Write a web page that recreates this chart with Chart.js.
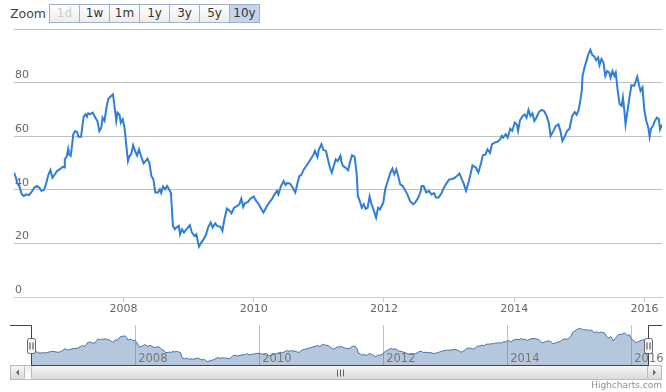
<!DOCTYPE html>
<html>
<head>
<meta charset="utf-8">
<script src="https://cdn.jsdelivr.net/npm/chart.js@4.4.1/dist/chart.umd.min.js"></script>
<style>
  body { margin: 0; background: #fff; font-family: "DejaVu Sans", Verdana, sans-serif; }
  #wrap { position: relative; width: 666px; height: 392px; overflow: hidden; }
  #mainChart { position: absolute; left: 0; top: 0; }
  #navChart { position: absolute; left: 0; top: 318px; }
  .lbl { position: absolute; left: 10px; top: 4px; line-height: 19px; font-size: 12.5px; color: #444; }
  .btn { position: absolute; top: 4px; width: 29px; height: 17px; line-height: 17px; border: 1px solid #9fb0c8;
         text-align: center; font-size: 12px; color: #333; background: linear-gradient(#ffffff, #ececec); }
  .btn.dis { color: #ccc; }
  .btn.sel { background: #c3d5ee; }
  .credit { position: absolute; right: 4px; top: 380px; font-size: 9px; color: #909090; }
</style>
</head>
<body>
<div id="wrap">
  <span class="lbl">Zoom</span>
  <span class="btn dis" style="left:49px">1d</span>
  <span class="btn" style="left:79px">1w</span>
  <span class="btn" style="left:109px">1m</span>
  <span class="btn" style="left:139px">1y</span>
  <span class="btn" style="left:169px">3y</span>
  <span class="btn" style="left:199px">5y</span>
  <span class="btn sel" style="left:229px">10y</span>
  <canvas id="mainChart" width="666" height="320"></canvas>
  <canvas id="navChart" width="666" height="74"></canvas>
  <span class="credit">Highcharts.com</span>
</div>
<script>
// decimal years
const years = [
  2006.32, 2006.35, 2006.37, 2006.40, 2006.44, 2006.47, 2006.51, 2006.55, 2006.59, 2006.63,
  2006.67, 2006.71, 2006.74, 2006.78, 2006.81, 2006.85, 2006.88, 2006.91, 2006.95, 2006.98,
  2007.02, 2007.07, 2007.09, 2007.10, 2007.13, 2007.15, 2007.16, 2007.19, 2007.21, 2007.23,
  2007.26, 2007.29, 2007.31, 2007.35, 2007.37, 2007.39, 2007.42, 2007.44, 2007.46, 2007.49,
  2007.53, 2007.57, 2007.60, 2007.63, 2007.66, 2007.68, 2007.71, 2007.74, 2007.77, 2007.81,
  2007.84, 2007.86, 2007.89, 2007.91, 2007.94, 2007.96, 2007.99, 2008.02, 2008.04, 2008.07,
  2008.09, 2008.12, 2008.15, 2008.18, 2008.21, 2008.24, 2008.27, 2008.31, 2008.34, 2008.37,
  2008.40, 2008.43, 2008.46, 2008.49, 2008.53, 2008.56, 2008.58, 2008.61, 2008.64, 2008.67,
  2008.70, 2008.73, 2008.76, 2008.79, 2008.81, 2008.85, 2008.87, 2008.90, 2008.93, 2008.97,
  2009.02, 2009.05, 2009.09, 2009.12, 2009.16, 2009.19, 2009.23, 2009.27, 2009.30, 2009.34,
  2009.37, 2009.41, 2009.44, 2009.49, 2009.52, 2009.55, 2009.59, 2009.63, 2009.66, 2009.70,
  2009.75, 2009.78, 2009.81, 2009.84, 2009.87, 2009.91, 2009.95, 2010.00, 2010.04, 2010.08,
  2010.12, 2010.15, 2010.19, 2010.23, 2010.28, 2010.32, 2010.36, 2010.38, 2010.42, 2010.46,
  2010.49, 2010.52, 2010.56, 2010.60, 2010.64, 2010.67, 2010.70, 2010.73, 2010.77, 2010.80,
  2010.84, 2010.88, 2010.92, 2010.94, 2010.98, 2011.00, 2011.04, 2011.07, 2011.11, 2011.14,
  2011.17, 2011.20, 2011.23, 2011.26, 2011.29, 2011.33, 2011.34, 2011.37, 2011.41, 2011.45,
  2011.48, 2011.51, 2011.55, 2011.58, 2011.60, 2011.63, 2011.66, 2011.69, 2011.72, 2011.75,
  2011.78, 2011.81, 2011.84, 2011.88, 2011.91, 2011.94, 2011.99, 2012.02, 2012.06, 2012.10,
  2012.13, 2012.16, 2012.19, 2012.22, 2012.25, 2012.29, 2012.33, 2012.36, 2012.40, 2012.45,
  2012.48, 2012.52, 2012.56, 2012.58, 2012.61, 2012.65, 2012.69, 2012.73, 2012.77, 2012.80,
  2012.84, 2012.89, 2012.92, 2012.96, 2013.00, 2013.04, 2013.08, 2013.12, 2013.16, 2013.19,
  2013.23, 2013.26, 2013.29, 2013.33, 2013.36, 2013.41, 2013.45, 2013.49, 2013.52, 2013.56,
  2013.59, 2013.63, 2013.66, 2013.70, 2013.74, 2013.78, 2013.81, 2013.83, 2013.87, 2013.90,
  2013.94, 2013.97, 2014.01, 2014.04, 2014.06, 2014.09, 2014.13, 2014.16, 2014.19, 2014.22,
  2014.25, 2014.28, 2014.31, 2014.34, 2014.38, 2014.42, 2014.46, 2014.50, 2014.53, 2014.56,
  2014.60, 2014.64, 2014.68, 2014.71, 2014.74, 2014.78, 2014.81, 2014.85, 2014.89, 2014.93,
  2014.96, 2014.99, 2015.02, 2015.04, 2015.05, 2015.08, 2015.11, 2015.14, 2015.17, 2015.20,
  2015.23, 2015.26, 2015.29, 2015.31, 2015.34, 2015.37, 2015.40, 2015.43, 2015.46, 2015.48,
  2015.51, 2015.54, 2015.56, 2015.59, 2015.62, 2015.65, 2015.67, 2015.69, 2015.71, 2015.74,
  2015.77, 2015.80, 2015.84, 2015.86, 2015.89, 2015.92, 2015.94, 2015.97, 2016.00, 2016.03,
  2016.06, 2016.08, 2016.10, 2016.13, 2016.16, 2016.19, 2016.22, 2016.24, 2016.27
];
const values = [
  46.4, 44.5, 42.4, 41.4, 38.3, 37.7, 38.3, 38.0, 39.2, 40.8,
  41.4, 40.8, 39.6, 39.9, 42.0, 45.8, 47.4, 44.5, 45.8, 47.0,
  47.6, 48.6, 48.3, 51.4, 52.4, 55.1, 53.3, 52.6, 56.3, 60.7,
  61.9, 61.5, 59.8, 59.8, 63.8, 67.3, 68.2, 67.3, 68.5, 68.2,
  68.8, 66.9, 65.7, 61.9, 63.2, 66.9, 65.7, 70.7, 74.0, 75.0,
  75.6, 71.9, 65.7, 68.8, 68.0, 65.0, 66.3, 62.6, 57.6, 50.7,
  52.4, 53.3, 56.6, 54.4, 52.8, 55.1, 52.6, 49.9, 50.7, 51.6,
  49.9, 45.1, 43.9, 39.0, 39.0, 40.2, 38.8, 41.2, 40.2, 41.4,
  40.2, 38.8, 26.5, 25.3, 25.9, 26.5, 23.4, 25.3, 24.1, 25.3,
  26.8, 24.1, 22.8, 23.4, 18.8, 20.1, 21.5, 23.4, 25.9, 27.8,
  25.9, 27.5, 26.5, 26.2, 24.7, 29.0, 33.0, 32.2, 31.2, 33.3,
  34.0, 34.6, 36.7, 33.6, 35.1, 35.4, 36.7, 37.5, 35.8, 34.6,
  32.7, 31.5, 33.3, 35.0, 36.5, 38.3, 39.6, 38.3, 41.4, 43.3,
  41.8, 42.6, 42.2, 40.8, 39.0, 42.2, 45.1, 45.5, 47.6, 48.6,
  50.1, 51.6, 53.2, 54.5, 52.2, 54.9, 57.0, 54.9, 54.5, 51.4,
  48.3, 46.4, 48.9, 51.4, 50.7, 52.6, 51.1, 48.9, 48.3, 47.3,
  50.4, 52.9, 52.4, 46.4, 37.7, 35.8, 33.3, 34.6, 32.9, 33.3,
  37.5, 34.6, 32.7, 29.6, 33.3, 32.7, 35.2, 40.2, 43.3, 46.4,
  47.9, 45.8, 47.6, 45.1, 42.0, 41.4, 39.6, 38.3, 35.8, 34.6,
  35.2, 36.7, 39.0, 41.4, 41.4, 39.0, 39.6, 38.3, 38.8, 37.1,
  37.1, 39.0, 40.8, 42.4, 43.8, 44.0, 44.3, 45.1, 46.1, 44.3,
  42.0, 39.6, 42.0, 45.8, 49.1, 48.3, 46.4, 49.8, 52.9, 53.2,
  55.1, 53.8, 57.0, 57.6, 57.9, 58.6, 60.1, 59.5, 60.7, 59.5,
  62.8, 62.0, 65.1, 64.4, 62.0, 66.0, 67.5, 68.1, 66.9, 69.8,
  67.5, 68.5, 65.7, 66.9, 69.0, 69.8, 69.4, 67.5, 65.1, 60.1,
  61.9, 63.8, 64.4, 61.9, 58.2, 60.1, 61.9, 62.8, 67.5, 69.0,
  68.0, 69.8, 73.8, 77.5, 82.5, 85.6, 88.1, 90.6, 92.2, 90.3,
  89.8, 88.4, 89.4, 86.5, 88.8, 87.6, 82.5, 84.3, 83.7, 81.8,
  84.3, 82.5, 83.7, 76.9, 71.9, 71.3, 74.4, 70.0, 64.4, 69.4,
  74.4, 79.0, 78.8, 80.0, 82.2, 78.8, 76.9, 78.2, 69.4, 65.7,
  63.2, 59.8, 62.8, 63.8, 65.7, 66.9, 66.5, 62.5, 64.4
];
const tickYears = [2008, 2010, 2012, 2014, 2016];
const yTicks = [0, 20, 40, 60, 80, 100];

const points = years.map((x, i) => ({ x: x, y: values[i] }));
const xMin = years[0];
const xMax = years[years.length - 1];

Chart.defaults.font.family = '"DejaVu Sans", Verdana, sans-serif';
Chart.defaults.font.size = 11;

// main chart
new Chart(document.getElementById('mainChart'), {
  type: 'line',
  data: {
    datasets: [{
      data: points,
      borderColor: '#2f7ed8',
      borderWidth: 2,
      pointRadius: 0,
      fill: false,
      tension: 0
    }]
  },
  options: {
    responsive: false,
    animation: false,
    layout: { padding: { left: 12, right: 4, top: 29, bottom: 0 } },
    plugins: { legend: { display: false }, tooltip: { enabled: false } },
    scales: {
      x: {
        type: 'linear',
        min: xMin,
        max: xMax,
        afterBuildTicks: s => { s.ticks = tickYears.map(v => ({ value: v })); },
        afterFit: s => { s.height = 23; s.paddingLeft = 0; s.paddingRight = 0; },
        grid: { drawOnChartArea: false, drawTicks: true, tickLength: 5, color: '#C0D0E0' },
        border: { color: '#C0D0E0' },
        ticks: { padding: 1, color: '#666', maxRotation: 0, callback: v => String(v) }
      },
      y: {
        min: 0,
        max: 100,
        afterBuildTicks: s => { s.ticks = yTicks.map(v => ({ value: v })); },
        grid: { color: '#C0C0C0', drawTicks: false },
        border: { display: false },
        ticks: {
          mirror: true,
          padding: 1,
          labelOffset: -7,
          color: '#666',
          callback: v => (v === 100 ? '' : String(v))
        }
      }
    }
  }
});

// navigator outline, handles and scrollbar
const navDecor = {
  id: 'navDecor',
  afterDraw(chart) {
    const ctx = chart.ctx;
    const a = chart.chartArea;
    const top = Math.round(a.top) + 0.5;
    const bot = Math.round(a.bottom) + 0.5;
    const L = Math.round(a.left) + 0.5;
    const R = Math.round(a.right) + 0.5;
    ctx.save();
    ctx.lineWidth = 1;

    // scrollbar
    const sy = bot, sh = 14;
    let g = ctx.createLinearGradient(0, sy, 0, sy + sh);
    g.addColorStop(0, '#eeeeee'); g.addColorStop(1, '#ffffff');
    ctx.fillStyle = g; ctx.strokeStyle = '#bbb';
    ctx.fillRect(10.5, sy, 651, sh); ctx.strokeRect(10.5, sy, 651, sh);

    g = ctx.createLinearGradient(0, sy, 0, sy + sh);
    g.addColorStop(0, '#f8f8f8'); g.addColorStop(1, '#d9d9d9');
    ctx.fillStyle = g;
    ctx.beginPath(); ctx.roundRect(L, sy, R - L, sh, 2); ctx.fill(); ctx.stroke();

    [10.5, 647.5].forEach((bx, k) => {
      ctx.fillStyle = g;
      ctx.beginPath(); ctx.roundRect(bx, sy, 14, sh, 2); ctx.fill(); ctx.stroke();
      const cx = bx + 7, cy = sy + sh / 2;
      ctx.fillStyle = '#666';
      ctx.beginPath();
      if (k === 0) { ctx.moveTo(cx + 1.5, cy - 3); ctx.lineTo(cx - 1.5, cy); ctx.lineTo(cx + 1.5, cy + 3); }
      else { ctx.moveTo(cx - 1.5, cy - 3); ctx.lineTo(cx + 1.5, cy); ctx.lineTo(cx - 1.5, cy + 3); }
      ctx.closePath(); ctx.fill();
    });

    // rifles
    const mid = Math.round((L + R) / 2) + 0.5;
    ctx.strokeStyle = '#666';
    ctx.beginPath();
    [-3, 0, 3].forEach(d => { ctx.moveTo(mid + d, sy + 4); ctx.lineTo(mid + d, sy + sh - 3); });
    ctx.stroke();

    // outline
    ctx.strokeStyle = '#444';
    ctx.beginPath();
    ctx.moveTo(10, top); ctx.lineTo(L, top); ctx.lineTo(L, bot);
    ctx.lineTo(R, bot); ctx.lineTo(R, top); ctx.lineTo(662, top);
    ctx.stroke();

    // handles
    const hy = Math.round((a.top + a.bottom) / 2 - 7.5) + 0.5;
    [L, R].forEach(hx => {
      ctx.fillStyle = '#f4f2f3'; ctx.strokeStyle = '#666';
      ctx.beginPath(); ctx.roundRect(hx - 4, hy, 8, 15, 2); ctx.fill(); ctx.stroke();
      ctx.strokeStyle = '#444';
      ctx.beginPath();
      ctx.moveTo(hx - 1.5, hy + 4); ctx.lineTo(hx - 1.5, hy + 11);
      ctx.moveTo(hx + 1.5, hy + 4); ctx.lineTo(hx + 1.5, hy + 11);
      ctx.stroke();
    });
    ctx.restore();
  }
};

const lo = Math.min(...values), hi = Math.max(...values);
const pad = (hi - lo) * 0.1;

// navigator
new Chart(document.getElementById('navChart'), {
  type: 'line',
  data: {
    datasets: [{
      data: points,
      borderColor: '#4572A7',
      borderWidth: 1,
      backgroundColor: 'rgba(69,114,167,0.4)',
      fill: 'start',
      pointRadius: 0,
      tension: 0
    }]
  },
  options: {
    responsive: false,
    animation: false,
    layout: { padding: { left: 31, right: 18, top: 7, bottom: 27 } },
    plugins: { legend: { display: false }, tooltip: { enabled: false } },
    scales: {
      x: {
        type: 'linear',
        min: xMin,
        max: xMax,
        afterBuildTicks: s => { s.ticks = tickYears.map(v => ({ value: v })); },
        afterFit: s => { s.height = 0; s.paddingLeft = 0; s.paddingRight = 0; },
        grid: { color: '#C0C0C0', drawTicks: false },
        border: { display: false },
        ticks: {
          z: 1,
          mirror: true,
          align: 'start',
          labelOffset: 3,
          padding: -1,
          color: '#777',
          font: { size: 11.5 },
          maxRotation: 0,
          autoSkip: false,
          callback: v => String(v)
        }
      },
      y: { display: false, min: lo - pad, max: hi + pad }
    }
  },
  plugins: [navDecor]
});
</script>
</body>
</html>
